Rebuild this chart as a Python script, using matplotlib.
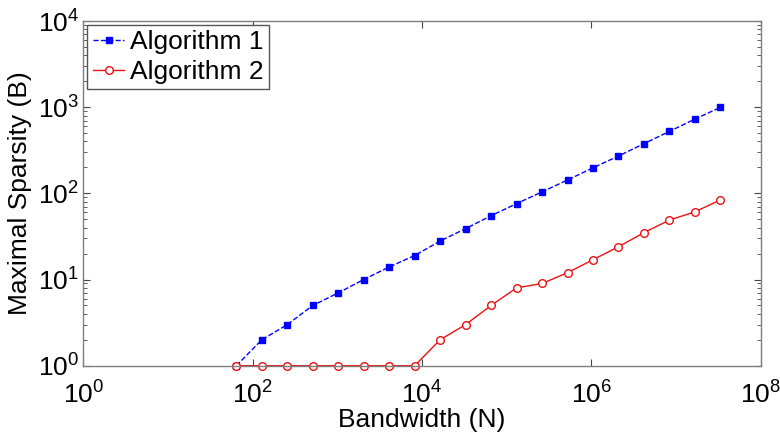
import numpy as np
import matplotlib
matplotlib.use("Agg")
from matplotlib import pyplot as plt
from matplotlib.ticker import LogLocator, NullLocator, FixedLocator

plt.rcParams['font.family'] = ['Liberation Sans', 'DejaVu Sans']
plt.rcParams['mathtext.fontset'] = 'custom'
plt.rcParams['mathtext.rm'] = 'Liberation Sans'
plt.rcParams['mathtext.it'] = 'Liberation Sans'

# data (bandwidth N = 2^6 ... 2^25)
bandwidth = [2 ** k for k in range(6, 26)]
alg1 = [1, 2, 3, 5, 7, 10, 14, 19, 28, 39, 55, 76, 104, 143, 198,
        271, 377, 524, 728, 995]
alg2 = [1, 1, 1, 1, 1, 1, 1, 1, 2, 3, 5, 8, 9, 12, 17,
        24, 35, 49, 61, 84]
labels = ['Algorithm 1', 'Algorithm 2']

fig = plt.figure(figsize=(7.8, 4.38), dpi=100)
ax = fig.add_axes([0.107, 0.165, 0.868, 0.787])

ax.loglog(bandwidth, alg1, '--', color='#0000ff', marker='s', markersize=4.5,
          markerfacecolor='#0000ff', markeredgecolor='#0000ff', linewidth=1.0,
          label=labels[0], clip_on=False)
ax.loglog(bandwidth, alg2, '-', color='#ee1111', marker='o', markersize=5.5,
          markerfacecolor='white', markeredgecolor='#ee1111', linewidth=1.0,
          label=labels[1], clip_on=False)

ax.set_xlim(1, 1e8)
ax.set_ylim(1, 1e4)
ax.xaxis.set_major_locator(FixedLocator([1, 1e2, 1e4, 1e6, 1e8]))
ax.xaxis.set_minor_locator(NullLocator())
ax.yaxis.set_major_locator(FixedLocator([1, 1e1, 1e2, 1e3, 1e4]))
ax.yaxis.set_minor_locator(LogLocator(base=10, subs=np.arange(2, 10)))

ax.tick_params(which='both', direction='in', top=True, right=True,
               labelsize=19, color='#444444')
ax.tick_params(which='major', length=5)
ax.tick_params(which='minor', length=3)
ax.tick_params(axis='x', pad=11)
ax.tick_params(axis='y', pad=3)
for s in ax.spines.values():
    s.set_color('#7f7f7f')
    s.set_linewidth(1.0)

ax.set_xlabel('Bandwidth (N)', fontsize=19, labelpad=0)
ax.set_ylabel('Maximal Sparsity (B)', fontsize=19, labelpad=4)

leg = ax.legend(loc='upper left', fontsize=19, handlelength=1.2,
                handletextpad=0.2, borderpad=0.2, borderaxespad=0.15,
                labelspacing=0.22, fancybox=False, framealpha=1,
                edgecolor='#555555', markerscale=1.0)
leg.get_frame().set_linewidth(1.0)

fig.savefig('out.png', dpi=100)
